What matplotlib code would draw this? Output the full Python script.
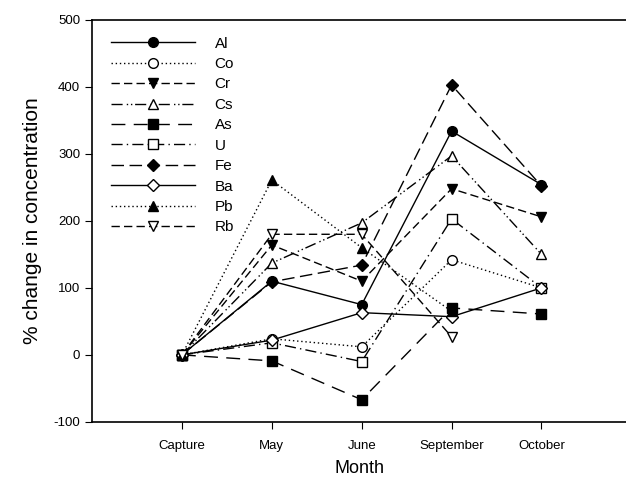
import numpy as np
import matplotlib
matplotlib.use("Agg")
import matplotlib.pyplot as plt

plt.rcParams['font.family'] = ['Liberation Sans', 'DejaVu Sans']
plt.rcParams['axes.unicode_minus'] = False

months = ["Capture", "May", "June", "September", "October"]
elements = ["Al", "Co", "Cr", "Cs", "As", "U", "Fe", "Ba", "Pb", "Rb"]

al = [0, 110, 75, 334, 254]
co = [0, 24, 12, 142, 100]
cr = [0, 164, 110, 248, 206]
cs = [0, 137, 197, 297, 150]
as_ = [0, -9, -67, 70, 61]
u = [0, 18, -10, 203, 100]
fe = [0, 109, 134, 403, 252]
ba = [0, 22, 63, 57, 100]
pb = [0, 261, 160, 65]
rb = [0, 180, 180, 27]

series = [al, co, cr, cs, as_, u, fe, ba, pb, rb]

# (marker, filled, linestyle)
styles = [
    ('o', True, '-'),
    ('o', False, (0, (1, 2))),
    ('v', True, (0, (6, 3))),
    ('^', False, (0, (8, 3, 1, 2, 1, 2))),
    ('s', True, (0, (10, 6))),
    ('s', False, (0, (8, 3, 1, 3))),
    ('D', True, (0, (9, 4))),
    ('D', False, '-'),
    ('^', True, (0, (1, 2))),
    ('v', False, (0, (6, 3))),
]

fig = plt.figure(figsize=(6.26, 4.86), dpi=100)
ax = fig.add_axes([0.147, 0.132, 0.853, 0.827])

for name, vals, (mk, filled, ls) in zip(elements, series, styles):
    x = np.arange(1, len(vals) + 1)
    ax.plot(x, vals, linestyle=ls, color='black', linewidth=1.0,
            marker=mk, markersize=7 if mk != 'D' else 6.5,
            markerfacecolor='black' if filled else 'white',
            markeredgecolor='black', markeredgewidth=1.0, label=name)

ax.set_xlim(0, 5.94)
ax.set_ylim(-100, 500)
ax.set_xticks(np.arange(1, 6))
ax.set_xticklabels(months, fontsize=9.5)
ax.set_yticks(np.arange(-100, 501, 100))
ax.tick_params(axis='y', labelsize=9.5, direction='out', length=5)
ax.tick_params(axis='x', direction='out', length=5, pad=8)
ax.spines['right'].set_visible(False)
for s in ['left', 'top', 'bottom']:
    ax.spines[s].set_linewidth(1.2)

ax.set_xlabel("Month", fontsize=13, labelpad=6)
ax.set_ylabel("% change in concentration", fontsize=15, labelpad=8)

leg = ax.legend(loc='upper left', frameon=False, fontsize=11,
                handlelength=5.5, handletextpad=1.3, labelspacing=0.42,
                borderaxespad=0.3, bbox_to_anchor=(0.015, 0.985))

fig.savefig("out.png", dpi=100)
